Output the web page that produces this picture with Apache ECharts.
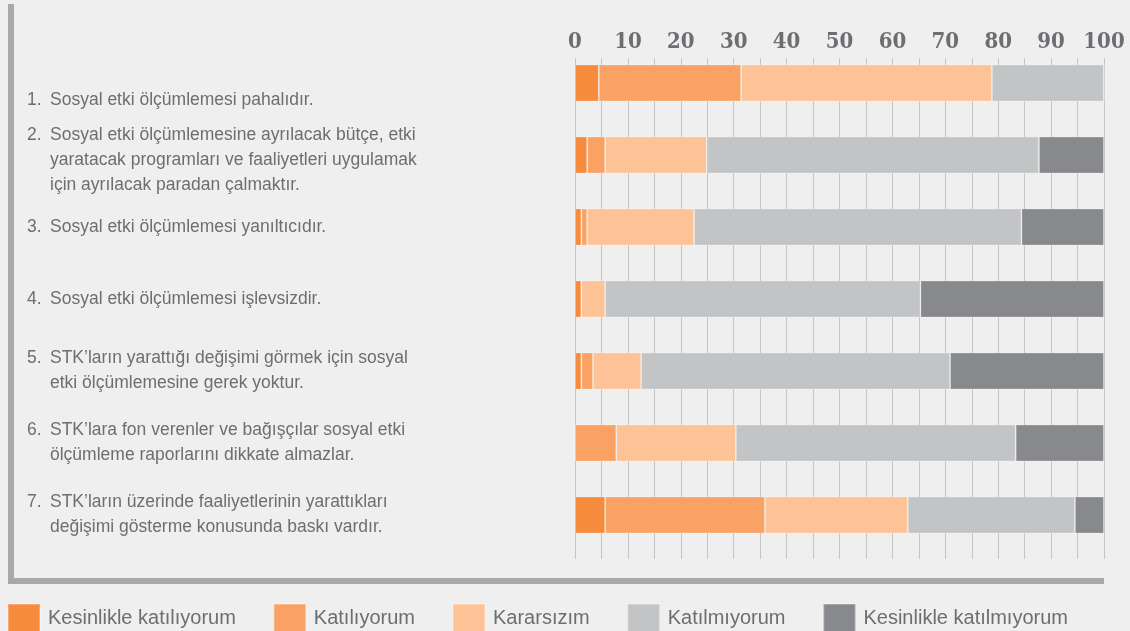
<!DOCTYPE html>
<html>
<head>
<meta charset="utf-8">
<script src="https://cdn.jsdelivr.net/npm/echarts@6/dist/echarts.min.js"></script>
<style>
  html, body { margin: 0; padding: 0; background: #eeefee; }
  #chart { width: 1130px; height: 631px; }
</style>
</head>
<body>
<div id="chart"></div>
<script>
// statements (number, then lines of the label)
const statements = [
  ['1.', 'Sosyal etki ölçümlemesi pahalıdır.'],
  ['2.', 'Sosyal etki ölçümlemesine ayrılacak bütçe, etki', 'yaratacak programları ve faaliyetleri uygulamak', 'için ayrılacak paradan çalmaktır.'],
  ['3.', 'Sosyal etki ölçümlemesi yanıltıcıdır.'],
  ['4.', 'Sosyal etki ölçümlemesi işlevsizdir.'],
  ['5.', 'STK’ların yarattığı değişimi görmek için sosyal', 'etki ölçümlemesine gerek yoktur.'],
  ['6.', 'STK’lara fon verenler ve bağışçılar sosyal etki', 'ölçümleme raporlarını dikkate almazlar.'],
  ['7.', 'STK’ların üzerinde faaliyetlerinin yarattıkları', 'değişimi gösterme konusunda baskı vardır.']
]

const seriesNames = ['Kesinlikle katılıyorum', 'Katılıyorum', 'Kararsızım', 'Katılmıyorum', 'Kesinlikle katılmıyorum']
const kesinlikleKatiliyorum = [4.5, 2.3, 1.2, 1.2, 1.2, 0, 5.7]
const katiliyorum = [26.9, 3.4, 1.1, 0, 2.2, 7.8, 30.2]
const kararsizim = [47.4, 19.2, 20.2, 4.5, 9.1, 22.6, 27.0]
const katilmiyorum = [21.2, 62.8, 61.9, 59.6, 58.4, 52.9, 31.6]
const kesinlikleKatilmiyorum = [0, 12.3, 15.6, 34.7, 29.1, 16.7, 5.5]

const colors = ['#f68b3d', '#f9a263', '#fdc296', '#c3c4c5', '#88898d']
const textColor = '#6d6e71'

const chart = echarts.init(document.getElementById('chart'), null, { renderer: 'canvas' })

const values = [kesinlikleKatiliyorum, katiliyorum, kararsizim, katilmiyorum, kesinlikleKatilmiyorum]
const series = values.map((data, i) => ({
  name: seriesNames[i],
  type: 'bar',
  stack: 'total',
  xAxisIndex: 0,
  yAxisIndex: 0,
  barWidth: 37,
  data: data,
  itemStyle: {
    color: colors[i],
    borderColor: 'rgba(255,255,255,0.25)',
    borderWidth: 1
  },
  silent: true
}))

const categories = statements.map(s => s.join('\n'))

chart.setOption({
  backgroundColor: '#eeefee',
  animation: false,
  textStyle: { fontFamily: 'Liberation Sans' },
  legend: {
    left: 7,
    top: 603,
    padding: 0,
    itemWidth: 32,
    itemHeight: 28,
    itemGap: 37,
    icon: 'rect',
    data: seriesNames,
    textStyle: { color: textColor, fontSize: 20, padding: [6, 0, 0, 3] }
  },
  grid: [
    { left: 575, top: 47, width: 529, height: 504 },
    { left: 575, top: 58, width: 529, height: 501 }
  ],
  xAxis: [
    {
      gridIndex: 0,
      type: 'value',
      position: 'top',
      min: 0,
      max: 100,
      interval: 10,
      axisLine: { show: false },
      axisTick: { show: false },
      splitLine: { show: false },
      axisLabel: {
        margin: -6,
        color: textColor,
        fontFamily: 'DejaVu Serif Condensed',
        fontWeight: 'bold',
        fontSize: 22
      }
    },
    {
      gridIndex: 1,
      type: 'value',
      min: 0,
      max: 100,
      interval: 5,
      axisLine: { show: false },
      axisTick: { show: false },
      axisLabel: { show: false },
      splitLine: { show: true, lineStyle: { color: '#c4c5c6', width: 1 } }
    }
  ],
  yAxis: [
    {
      gridIndex: 0,
      type: 'category',
      inverse: true,
      data: categories,
      axisLine: { show: false },
      axisTick: { show: false },
      axisLabel: {
        align: 'left',
        margin: 548,
        formatter: (val, idx) => {
          const lines = val.split('\n')
          let out = lines.slice(1).map((l, k) => (k === 0 ? '{n|' + lines[0] + '}' : '{n| }') + '{t|' + l + '}').join('\n')
          // the first two labels sit a bit lower than their bars
          if (idx === 0) out = '{g1| }\n' + out
          if (idx === 1) out = '{g2| }\n' + out
          return out
        },
        rich: {
          n: { width: 23, color: textColor, fontSize: 17.5, lineHeight: 25, fontFamily: 'Liberation Sans' },
          t: { color: textColor, fontSize: 17.5, lineHeight: 25, fontFamily: 'Liberation Sans' },
          g1: { fontSize: 10, lineHeight: 34, height: 34 },
          g2: { fontSize: 10, lineHeight: 10, height: 10 }
        }
      }
    },
    {
      gridIndex: 1,
      type: 'category',
      data: categories,
      show: false
    }
  ],
  graphic: [
    { type: 'rect', shape: { x: 8, y: 4, width: 6, height: 580 }, style: { fill: '#a7a8aa' }, silent: true },
    { type: 'rect', shape: { x: 8, y: 578, width: 1096, height: 6 }, style: { fill: '#a7a8aa' }, silent: true }
  ],
  series: series
})
</script>
</body>
</html>
